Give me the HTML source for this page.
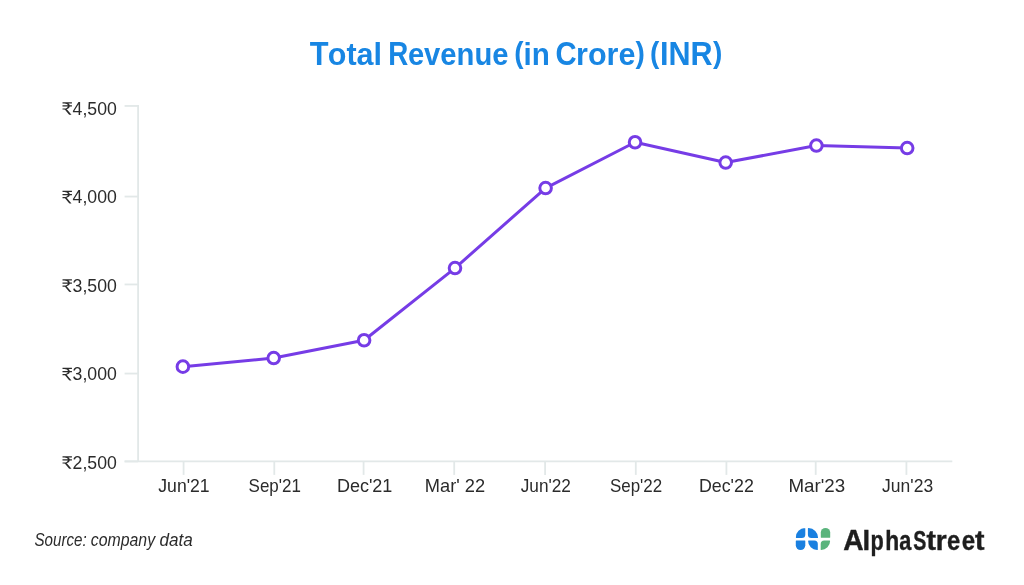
<!DOCTYPE html>
<html><head><meta charset="utf-8"><title>Total Revenue (in Crore) (INR)</title><style>
html,body{margin:0;padding:0;background:#ffffff;width:1024px;height:585px;overflow:hidden}
svg{display:block;will-change:transform}
text{font-family:"Liberation Sans",sans-serif}
</style></head><body>
<svg width="1024" height="585" viewBox="0 0 1024 585">
<defs><path id="rp" d="M1053 1293H680Q750 1256 785.5 1202.0Q821 1148 832 1079H1053V940H830Q810 831 729.5 751.0Q649 671 516 636Q559 613 590 569L1008 0H835Q783 0 758 41L386 553Q369 577 349.5 587.5Q330 598 289 598H121V732H309Q450 732 534.5 789.0Q619 846 644 940H119V1079H648Q629 1179 546.0 1233.5Q463 1288 317 1288H121V1433H1053Z"/></defs>
<g font-family="Liberation Sans" font-weight="bold" font-size="33" fill="#1886e3"><text transform="translate(309.81,64.70) scale(0.9335,1)" text-anchor="start">T</text><text transform="translate(327.82,64.70) scale(0.9248,0.9400)">otal</text><text transform="translate(388.28,64.70) scale(0.8405,1)" text-anchor="start">R</text><text transform="translate(407.88,64.70) scale(0.8848,0.9400)">evenue</text><text transform="translate(514.30,62.60) scale(0.8500,0.9130)">(</text><text transform="translate(523.58,64.70) scale(0.8968,0.9400)">in</text><text transform="translate(555.44,64.70) scale(0.8876,1)" text-anchor="start">C</text><text transform="translate(576.08,64.70) scale(0.9257,0.9400)">rore</text><text transform="translate(635.54,62.60) scale(0.8500,0.9130)">)</text><text transform="translate(650.00,62.60) scale(0.8500,0.9130)">(</text><text transform="translate(660.08,64.70) scale(0.9253,1)" text-anchor="start">INR</text><text transform="translate(712.93,62.60) scale(0.8500,0.9130)">)</text></g>
<g stroke="#e2e8e8" stroke-width="1.8" fill="none">
<line x1="138.1" y1="105.05" x2="138.1" y2="461.46"/>
<line x1="124.6" y1="461.46" x2="952.3" y2="461.46"/>
<line x1="124.6" y1="105.95" x2="138.1" y2="105.95"/>
<line x1="124.6" y1="196.56" x2="138.1" y2="196.56"/>
<line x1="124.6" y1="284.46" x2="138.1" y2="284.46"/>
<line x1="124.6" y1="373.56" x2="138.1" y2="373.56"/>
<line x1="124.6" y1="461.46" x2="138.1" y2="461.46"/>
<line x1="183.6" y1="461.46" x2="183.6" y2="474.9"/>
<line x1="274.3" y1="461.46" x2="274.3" y2="474.9"/>
<line x1="363.6" y1="461.46" x2="363.6" y2="474.9"/>
<line x1="454.2" y1="461.46" x2="454.2" y2="474.9"/>
<line x1="545.1" y1="461.46" x2="545.1" y2="474.9"/>
<line x1="635.8" y1="461.46" x2="635.8" y2="474.9"/>
<line x1="726.4" y1="461.46" x2="726.4" y2="474.9"/>
<line x1="815.7" y1="461.46" x2="815.7" y2="474.9"/>
<line x1="906.4" y1="461.46" x2="906.4" y2="474.9"/>
</g>
<g font-family="Liberation Sans" font-size="18.5" fill="#2b2b2b">
<text transform="translate(116.83,114.85) scale(0.9560,1)" text-anchor="end">4,500</text>
<use href="#rp" transform="translate(61.30,114.85) scale(0.0101,-0.0088)"/>
<text transform="translate(116.83,203.40) scale(0.9560,1)" text-anchor="end">4,000</text>
<use href="#rp" transform="translate(61.30,203.40) scale(0.0101,-0.0088)"/>
<text transform="translate(116.83,291.90) scale(0.9560,1)" text-anchor="end">3,500</text>
<use href="#rp" transform="translate(61.30,291.90) scale(0.0101,-0.0088)"/>
<text transform="translate(116.83,380.40) scale(0.9560,1)" text-anchor="end">3,000</text>
<use href="#rp" transform="translate(61.30,380.40) scale(0.0101,-0.0088)"/>
<text transform="translate(116.83,468.85) scale(0.9560,1)" text-anchor="end">2,500</text>
<use href="#rp" transform="translate(61.30,468.85) scale(0.0101,-0.0088)"/>
</g>
<g font-family="Liberation Sans" font-size="18" fill="#2b2b2b">
<text transform="translate(158.28,491.90) scale(0.9793,1)" text-anchor="start">Jun&#39;21</text>
<text transform="translate(248.54,491.90) scale(0.9446,1)" text-anchor="start">Sep&#39;21</text>
<text transform="translate(336.89,491.90) scale(1.0004,1)" text-anchor="start">Dec&#39;21</text>
<text transform="translate(424.77,491.90) scale(1.0164,1)" text-anchor="start">Mar&#39; 22</text>
<text transform="translate(520.69,491.90) scale(0.9582,1)" text-anchor="start">Jun&#39;22</text>
<text transform="translate(609.94,491.90) scale(0.9412,1)" text-anchor="start">Sep&#39;22</text>
<text transform="translate(698.90,491.90) scale(0.9904,1)" text-anchor="start">Dec&#39;22</text>
<text transform="translate(788.43,491.90) scale(1.0417,1)" text-anchor="start">Mar&#39;23</text>
<text transform="translate(882.08,491.90) scale(0.9727,1)" text-anchor="start">Jun&#39;23</text>
</g>
<path d="M182.9,366.65 L273.7,358.05 L364.1,340.25 L455.0,268.05 L545.6,188.05 L635.05,142.25 L725.7,162.55 L816.4,145.55 L907.2,148.05" fill="none" stroke="#763ce6" stroke-width="3" stroke-linejoin="round"/>
<circle cx="182.9" cy="366.65" r="5.8" fill="#ffffff" stroke="#763ce6" stroke-width="3.0"/>
<circle cx="273.7" cy="358.05" r="5.8" fill="#ffffff" stroke="#763ce6" stroke-width="3.0"/>
<circle cx="364.1" cy="340.25" r="5.8" fill="#ffffff" stroke="#763ce6" stroke-width="3.0"/>
<circle cx="455.0" cy="268.05" r="5.8" fill="#ffffff" stroke="#763ce6" stroke-width="3.0"/>
<circle cx="545.6" cy="188.05" r="5.8" fill="#ffffff" stroke="#763ce6" stroke-width="3.0"/>
<circle cx="635.05" cy="142.25" r="5.8" fill="#ffffff" stroke="#763ce6" stroke-width="3.0"/>
<circle cx="725.7" cy="162.55" r="5.8" fill="#ffffff" stroke="#763ce6" stroke-width="3.0"/>
<circle cx="816.4" cy="145.55" r="5.8" fill="#ffffff" stroke="#763ce6" stroke-width="3.0"/>
<circle cx="907.2" cy="148.05" r="5.8" fill="#ffffff" stroke="#763ce6" stroke-width="3.0"/>
<g font-family="Liberation Sans" font-style="italic" font-size="18.5" fill="#2b2b2b"><text transform="translate(34.49,545.70) scale(0.8182,1)" text-anchor="start">Source:</text><text transform="translate(90.73,545.70) scale(0.8582,1)" text-anchor="start">company</text><text transform="translate(159.49,545.70) scale(0.9253,1)" text-anchor="start">data</text></g>
<g fill="#1a80e0">
<path d="M804.90,528.10 H804.80 A0.5,0.5 0 0 1 805.30,528.60 V534.40 A3.5,3.5 0 0 1 801.80,537.90 H796.40 A0.5,0.5 0 0 1 795.90,537.40 V537.10 A9,9 0 0 1 804.90,528.10 Z"/>
<path d="M808.40,528.10 H808.55 A9.5,9.5 0 0 1 818.05,537.60 V537.40 A0.5,0.5 0 0 1 817.55,537.90 H811.40 A3.5,3.5 0 0 1 807.90,534.40 V528.60 A0.5,0.5 0 0 1 808.40,528.10 Z"/>
<path d="M796.30,540.40 H804.80 A0.5,0.5 0 0 1 805.30,540.90 V545.35 A4.7,4.7 0 0 1 800.60,550.05 H800.50 A4.7,4.7 0 0 1 795.80,545.35 V540.90 A0.5,0.5 0 0 1 796.30,540.40 Z"/>
<path d="M808.60,540.50 H814.30 A3.5,3.5 0 0 1 817.80,544.00 V549.50 A0.5,0.5 0 0 1 817.30,550.00 H817.10 A9,9 0 0 1 808.10,541.00 V541.00 A0.5,0.5 0 0 1 808.60,540.50 Z"/>
</g>
<g fill="#5ab47c">
<path d="M825.50,527.90 H825.50 A4.7,4.7 0 0 1 830.20,532.60 V537.30 A0.5,0.5 0 0 1 829.70,537.80 H821.30 A0.5,0.5 0 0 1 820.80,537.30 V532.60 A4.7,4.7 0 0 1 825.50,527.90 Z"/>
<path d="M824.20,540.50 H829.60 A0.5,0.5 0 0 1 830.10,541.00 V541.00 A9,9 0 0 1 821.10,550.00 H821.20 A0.5,0.5 0 0 1 820.70,549.50 V544.00 A3.5,3.5 0 0 1 824.20,540.50 Z"/>
</g>
<g font-family="Liberation Sans" font-weight="bold" font-size="27.5" fill="#1e1e1e" stroke="#1e1e1e" stroke-width="0.4"><text transform="translate(843.36,549.50) scale(1.0274,1.1)">A</text><text transform="translate(862.49,549.50) scale(1.0000,1)" text-anchor="start">l</text><text transform="translate(870.58,549.50) scale(0.7895,1)" text-anchor="start">p</text><text transform="translate(885.15,549.50) scale(0.8308,1)" text-anchor="start">h</text><text transform="translate(899.26,549.50) scale(0.7906,1)" text-anchor="start">a</text><text transform="translate(913.15,549.50) scale(0.7130,1)" text-anchor="start">S</text><text transform="translate(926.60,549.50) scale(1.0360,1)" text-anchor="start">t</text><text transform="translate(935.76,549.50) scale(1.0189,1)" text-anchor="start">r</text><text transform="translate(947.10,549.50) scale(0.8631,1)" text-anchor="start">e</text><text transform="translate(961.69,549.50) scale(0.8704,1)" text-anchor="start">e</text><text transform="translate(975.00,549.50) scale(1.0360,1)" text-anchor="start">t</text></g>
</svg>
</body></html>
